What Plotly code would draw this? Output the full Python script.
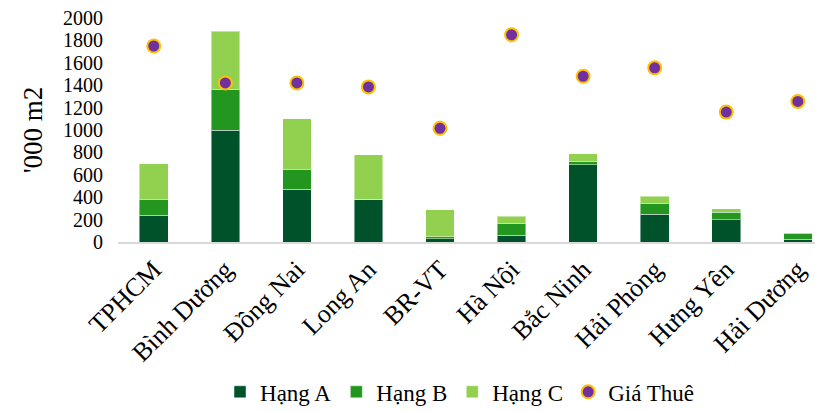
import plotly.graph_objects as go

categories = ["TPHCM", "Bình Dương", "Đồng Nai", "Long An", "BR-VT",
              "Hà Nội", "Bắc Ninh", "Hải Phòng", "Hưng Yên", "Hải Dương"]
hang_a = [240, 1000, 470, 380, 30, 60, 690, 250, 200, 25]
hang_b = [140, 360, 180, 0, 15, 105, 25, 95, 65, 55]
hang_c = [320, 520, 450, 400, 245, 65, 75, 65, 30, 0]
gia_thue = [1750, 1420, 1420, 1385, 1015, 1850, 1480, 1555, 1160, 1255]
y_ticks = [0, 200, 400, 600, 800, 1000, 1200, 1400, 1600, 1800, 2000]

FONT = "Liberation Serif"
bar_line = dict(color="rgba(255,255,255,0.45)", width=1)

fig = go.Figure()
fig.add_trace(go.Bar(x=categories, y=hang_a, name="Hạng A",
                     marker=dict(color="#00522A", line=bar_line), width=0.4))
fig.add_trace(go.Bar(x=categories, y=hang_b, name="Hạng B",
                     marker=dict(color="#22961E", line=bar_line), width=0.4))
fig.add_trace(go.Bar(x=categories, y=hang_c, name="Hạng C",
                     marker=dict(color="#92D050", line=bar_line), width=0.4))
fig.add_trace(go.Scatter(x=categories, y=gia_thue, name="Giá Thuê", mode="markers",
                         marker=dict(color="#7030A0", size=13,
                                     line=dict(color="#FFC000", width=2))))

fig.update_layout(
    width=815, height=412,
    barmode="stack",
    plot_bgcolor="white", paper_bgcolor="white",
    margin=dict(l=118, r=0, t=18, b=170, autoexpand=False),
    font=dict(family=FONT, color="#000000", size=22),
    showlegend=True,
    legend=dict(orientation="h", x=0.49, xanchor="center",
                y=-0.765, yanchor="bottom",
                font=dict(family=FONT, size=23, color="#000000"),
                itemwidth=30, traceorder="normal"),
    xaxis=dict(range=[-0.5, 9.24], showline=True, linecolor="#D9D9D9", linewidth=2,
               showgrid=False, ticks="", tickangle=-45,
               tickfont=dict(family=FONT, size=26)),
    yaxis=dict(range=[0, 2000], tickvals=y_ticks, showgrid=False, zeroline=False,
               showline=False, ticks="", ticklabelstandoff=14,
               tickfont=dict(family=FONT, size=20),
               title=dict(text="'000 m2", font=dict(family=FONT, size=27), standoff=12)),
)

fig.write_html("out.html")
